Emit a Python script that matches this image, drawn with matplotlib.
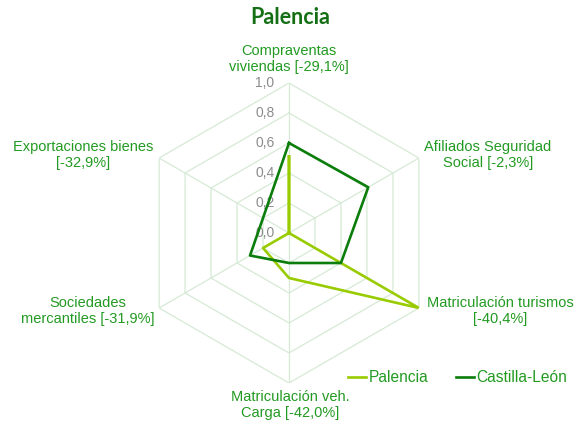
import numpy as np
import matplotlib
matplotlib.use("Agg")
import matplotlib.pyplot as plt

categories = ["Compraventas\nviviendas [-29,1%]",
              "Afiliados Seguridad\nSocial [-2,3%]",
              "Matriculación turismos\n[-40,4%]",
              "Matriculación veh.\nCarga [-42,0%]",
              "Sociedades\nmercantiles [-31,9%]",
              "Exportaciones bienes\n[-32,9%]"]
palencia = [0.51, 0.0, 1.0, 0.30, 0.20, 0.0]
castilla = [0.60, 0.61, 0.40, 0.20, 0.30, 0.20]
ticks = [0.0, 0.2, 0.4, 0.6, 0.8, 1.0]
tick_labels = ["0,0", "0,2", "0,4", "0,6", "0,8", "1,0"]
series_names = ["Palencia", "Castilla-León"]
title = "Palencia"

W, H = 586, 425
fig = plt.figure(figsize=(W / 100, H / 100), dpi=100)
cx, cy, R = 289, 233, 150
ax = fig.add_axes([(cx - R) / W, (H - cy - R) / H, 2 * R / W, 2 * R / H],
                  projection="polar")
ax.set_theta_offset(np.pi / 2)
ax.set_theta_direction(-1)
ax.set_ylim(0, 1.0)
ax.grid(False)
ax.spines["polar"].set_visible(False)
ax.set_xticks([])
ax.set_yticks([])
ax.patch.set_alpha(0)

n = len(categories)
angles = np.arange(n) * 2 * np.pi / n
closed = np.append(angles, angles[0])

grid_col = "#d6ead6"
for t in ticks[1:]:
    ax.plot(closed, [t] * (n + 1), color=grid_col, lw=0.9, zorder=1)
for a in angles:
    ax.plot([a, a], [0, ticks[-1]], color=grid_col, lw=0.9, zorder=1)

for t, lab in zip(ticks, tick_labels):
    ax.annotate(lab, xy=(0, t), xytext=(-10.5, 0), textcoords="offset points",
                ha="right", va="center", fontsize=10, color="#8c8c8c",
                family="Liberation Sans", zorder=2)

c_pal = "#99cc00"
c_cyl = "#0a7d0a"
ax.plot(closed, palencia + palencia[:1], color=c_pal, lw=1.9,
        label=series_names[0], zorder=3)
ax.plot(closed, castilla + castilla[:1], color=c_cyl, lw=1.9,
        label=series_names[1], zorder=4)

label_col = "#229a22"
label_pos = [(289, 59), (488, 155), (500, 311), (290, 405), (88, 311), (83, 155)]
for lab, (px, py) in zip(categories, label_pos):
    fig.text(px / W, (H - py) / H, lab, ha="center", va="center",
             fontsize=10.5, color=label_col, family="Liberation Sans",
             linespacing=1.15)

fig.text(290 / W, (H - 18) / H, title, ha="center", va="center",
         fontsize=15.5, fontweight="bold", color="#157015", family="Lato")

leg = fig.legend(loc="center", bbox_to_anchor=(458 / W, (H - 378) / H),
                 ncol=2, frameon=False, handlelength=1.1, handletextpad=0.2,
                 columnspacing=1.8, prop={"family": "Liberation Sans", "size": 11.2})
for txt in leg.get_texts():
    txt.set_color(label_col)

fig.savefig("out.png", dpi=100)
